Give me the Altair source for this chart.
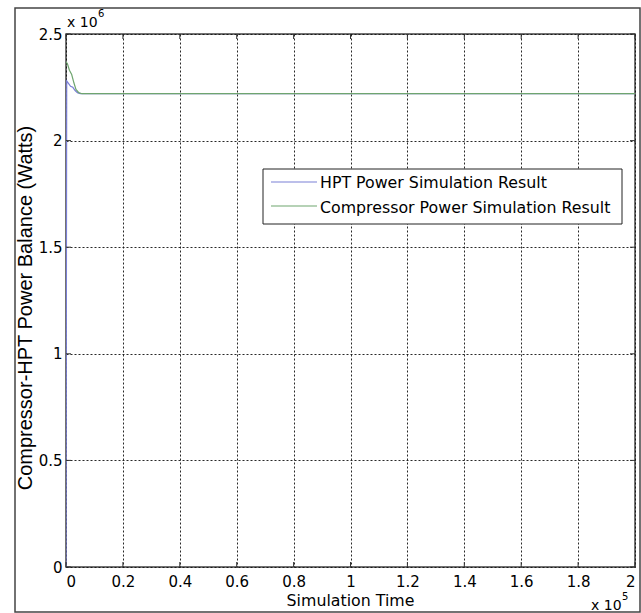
import altair as alt
import pandas as pd

# ---- data (time in s, power in W) ----
t_hpt = [0, 250, 800, 1600, 2400, 3200, 4000, 5000, 6000, 200000]
p_hpt = [0, 2280000, 2270000, 2255000, 2250000, 2235000, 2225000, 2220000, 2220000, 2220000]
t_comp = [0, 500, 1200, 2000, 2800, 3500, 4500, 5600, 200000]
p_comp = [2370000, 2360000, 2330000, 2310000, 2270000, 2240000, 2225000, 2220000, 2220000]

series_names = ["HPT Power Simulation Result", "Compressor Power Simulation Result"]
series_colors = ["#7b80d6", "#6fa56f"]

x_ticks = [0, 20000, 40000, 60000, 80000, 100000, 120000, 140000, 160000, 180000, 200000]
y_ticks = [0, 500000, 1000000, 1500000, 2000000, 2500000]

x_title = "Simulation Time"
y_title = "Compressor-HPT Power Balance (Watts)"

FONT = "DejaVu Sans"
W, H = 569, 533

df = pd.concat([
    pd.DataFrame({"t": t_hpt, "p": p_hpt, "series": series_names[0], "i": range(len(t_hpt))}),
    pd.DataFrame({"t": t_comp, "p": p_comp, "series": series_names[1], "i": range(len(t_comp))}),
])

xs = alt.Scale(domain=[0, 200000], nice=False, zero=False)
ys = alt.Scale(domain=[0, 2500000], nice=False, zero=False)

x_axis = alt.Axis(values=x_ticks, labelExpr="format(datum.value/1e5,'~g')", title=None,
                  grid=True, ticks=False, domain=False, labelPadding=7,
                  labelFontSize=15, labelFont=FONT, labelColor="#000")
y_axis = alt.Axis(values=y_ticks, labelExpr="format(datum.value/1e6,'~g')", title=None,
                  grid=True, ticks=False, domain=False, labelPadding=4,
                  labelFontSize=15, labelFont=FONT, labelColor="#000")

one = pd.DataFrame({"a": [0]})

# outer figure frame
frame = alt.Chart(one).mark_rect(fill=None, stroke="#444", strokeWidth=1.5).encode(
    x=alt.value(-51), x2=alt.value(574), y=alt.value(-26), y2=alt.value(578)
)

lines = alt.Chart(df).mark_line(strokeWidth=1.2, clip=True).encode(
    x=alt.X("t:Q", scale=xs, axis=x_axis),
    y=alt.Y("p:Q", scale=ys, axis=y_axis),
    color=alt.Color("series:N", scale=alt.Scale(domain=series_names, range=series_colors), legend=None),
    order="i:Q",
)

xt = pd.DataFrame({"t": x_ticks})
yt = pd.DataFrame({"p": y_ticks})
tick_style = dict(color="#333", strokeWidth=1)
xt_bottom = alt.Chart(xt).mark_rule(**tick_style).encode(
    x=alt.X("t:Q", scale=xs, axis=x_axis), y=alt.value(H), y2=alt.value(H - 5))
xt_top = alt.Chart(xt).mark_rule(**tick_style).encode(
    x=alt.X("t:Q", scale=xs, axis=x_axis), y=alt.value(0), y2=alt.value(5))
yt_left = alt.Chart(yt).mark_rule(**tick_style).encode(
    y=alt.Y("p:Q", scale=ys, axis=y_axis), x=alt.value(0), x2=alt.value(5))
yt_right = alt.Chart(yt).mark_rule(**tick_style).encode(
    y=alt.Y("p:Q", scale=ys, axis=y_axis), x=alt.value(W), x2=alt.value(W - 5))

# legend
leg_box = alt.Chart(one).mark_rect(fill="white", stroke="#222", strokeWidth=1).encode(
    x=alt.value(197), x2=alt.value(556), y=alt.value(135), y2=alt.value(190))
leg_line1 = alt.Chart(one).mark_rule(color=series_colors[0], strokeWidth=1.2).encode(
    x=alt.value(205), x2=alt.value(251), y=alt.value(148))
leg_line2 = alt.Chart(one).mark_rule(color=series_colors[1], strokeWidth=1.2).encode(
    x=alt.value(205), x2=alt.value(251), y=alt.value(172))
leg_text1 = alt.Chart(one).mark_text(align="left", baseline="middle", font=FONT, fontSize=15.8, color="#000").encode(
    x=alt.value(254), y=alt.value(149), text=alt.value(series_names[0]))
leg_text2 = alt.Chart(one).mark_text(align="left", baseline="middle", font=FONT, fontSize=15.8, color="#000").encode(
    x=alt.value(254), y=alt.value(174), text=alt.value(series_names[1]))

# axis titles
xtitle = alt.Chart(one).mark_text(align="center", baseline="middle", font=FONT, fontSize=15.8, color="#000").encode(
    x=alt.value(W / 2), y=alt.value(567), text=alt.value(x_title))
ytitle = alt.Chart(one).mark_text(align="center", baseline="middle", angle=270, font="Liberation Sans", fontSize=20, color="#000").encode(
    x=alt.value(-40), y=alt.value(274), text=alt.value(y_title))

# exponent labels
exp_style = dict(font=FONT, color="#000", align="left", baseline="middle")
ye1 = alt.Chart(one).mark_text(fontSize=14, **exp_style).encode(x=alt.value(1), y=alt.value(-11), text=alt.value("x 10"))
ye2 = alt.Chart(one).mark_text(fontSize=10, **exp_style).encode(x=alt.value(32), y=alt.value(-20), text=alt.value("6"))
xe1 = alt.Chart(one).mark_text(fontSize=14, **exp_style).encode(x=alt.value(525), y=alt.value(572), text=alt.value("x 10"))
xe2 = alt.Chart(one).mark_text(fontSize=10, **exp_style).encode(x=alt.value(556), y=alt.value(563), text=alt.value("5"))

chart = alt.layer(
    lines, frame, xt_bottom, xt_top, yt_left, yt_right,
    leg_box, leg_line1, leg_line2, leg_text1, leg_text2,
    xtitle, ytitle, ye1, ye2, xe1, xe2,
).properties(
    width=W, height=H,
    autosize=alt.AutoSizeParams(type="none"),
    padding={"left": 66, "top": 34, "right": 6, "bottom": 46},
    background="white",
).configure_view(
    stroke="#444", strokeWidth=1.5
).configure_axis(
    gridColor="#111", gridDash=[2, 2], gridWidth=1, gridOpacity=0.9
)

chart.save("out.html", embed_options={"renderer": "svg", "actions": False})
